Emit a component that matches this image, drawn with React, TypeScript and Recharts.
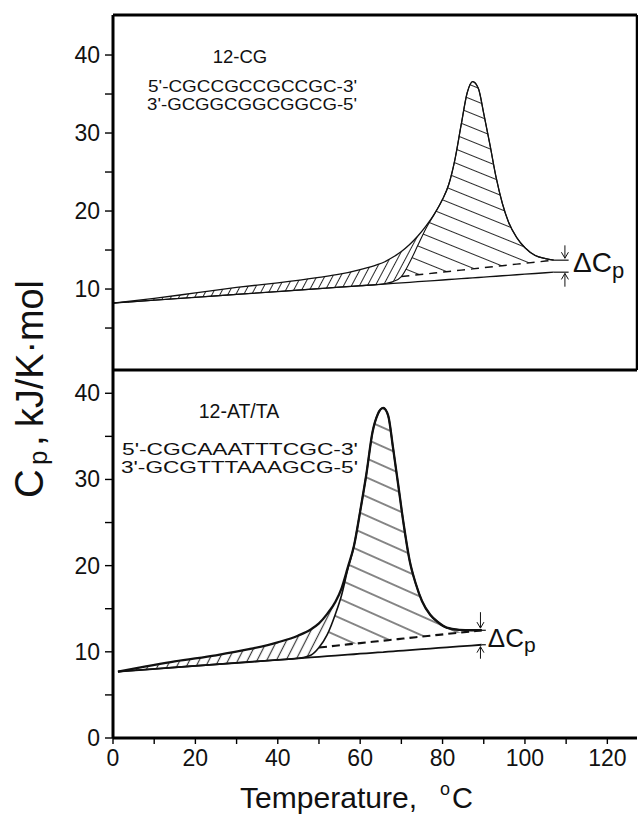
import React from 'react';
import {
  ComposedChart,
  Line,
  Area,
  XAxis,
  YAxis,
  ReferenceLine,
  ReferenceDot,
} from 'recharts';

const FONT = '"Liberation Sans", Arial, Helvetica, sans-serif';

// ---------- 12-CG duplex (upper panel) ----------
const cgTemps = [0, 10, 20, 30, 40, 50, 55, 60, 64, 66, 68, 70, 72, 74, 76, 78, 80, 81.5, 83, 84.5, 86, 87.3, 88.7, 90, 91.5, 93, 94.5, 96, 98, 100, 102.5, 105, 107];
// measured heat capacity curve
const cgCp = [8.2, 8.8, 9.5, 10.2, 10.8, 11.5, 11.9, 12.5, 13.1, 13.5, 14.1, 14.8, 15.7, 16.8, 18.1, 19.6, 21.5, 23.4, 26.6, 31.0, 35.2, 36.6, 35.7, 32.5, 28.5, 24.3, 21.0, 18.6, 16.6, 15.3, 14.3, 13.9, 13.7];
// cooperative melting component (leaves the baseline, joins the peak)
const cgInner = [8.2, 8.57, 8.94, 9.31, 9.68, 10.05, 10.24, 10.42, 10.57, 10.7, 10.95, 11.6, 13.4, 15.6, 17.8, 19.6, 21.5, 23.4, 26.6, 31.0, 35.2, 36.6, 35.7, 32.5, 28.5, 24.3, 21.0, 18.6, 16.6, 15.3, 14.3, 13.9, 13.7];
// initial-state baseline
const cgBase = [8.2, 8.57, 8.94, 9.31, 9.68, 10.05, 10.24, 10.42, 10.57, 10.64, 10.72, 10.79, 10.86, 10.94, 11.01, 11.09, 11.16, 11.22, 11.27, 11.33, 11.38, 11.43, 11.48, 11.53, 11.59, 11.64, 11.7, 11.75, 11.83, 11.9, 11.99, 12.09, 12.16];
// progress baseline under the transition
const cgDashed = [null, null, null, null, null, null, null, null, null, null, null, 11.6, 11.71, 11.83, 11.94, 12.05, 12.17, 12.25, 12.34, 12.42, 12.51, 12.58, 12.66, 12.74, 12.82, 12.91, 12.99, 13.08, 13.19, 13.3, 13.44, 13.59, 13.7];

// ---------- 12-AT/TA duplex (lower panel) ----------
const atTemps = [1.2, 8, 15, 25, 33, 40, 45, 48, 50, 52, 54, 55.5, 57, 58.5, 60, 61.5, 63, 64.3, 65.6, 66.8, 68, 69.2, 70.5, 72, 73.5, 75, 77, 79, 81, 84, 87, 89.5];
const atCp = [7.7, 8.3, 8.9, 9.6, 10.3, 11.1, 11.9, 12.6, 13.3, 14.4, 15.8, 17.4, 19.8, 22.3, 26.3, 30.6, 35.5, 37.6, 38.3, 37.4, 33.6, 29.5, 25.0, 20.6, 17.9, 15.9, 14.3, 13.4, 12.8, 12.55, 12.5, 12.5];
const atInner = [7.7, 7.94, 8.19, 8.54, 8.82, 9.07, 9.25, 9.6, 10.5, 12.0, 14.4, 16.6, 19.6, 22.3, 26.3, 30.6, 35.5, 37.6, 38.3, 37.4, 33.6, 29.5, 25.0, 20.6, 17.9, 15.9, 14.3, 13.4, 12.8, 12.55, 12.5, 12.5];
const atBase = [7.7, 7.94, 8.19, 8.54, 8.82, 9.07, 9.25, 9.35, 9.42, 9.49, 9.56, 9.62, 9.67, 9.72, 9.78, 9.83, 9.88, 9.93, 9.97, 10.02, 10.06, 10.1, 10.15, 10.2, 10.25, 10.31, 10.38, 10.45, 10.52, 10.62, 10.73, 10.82];
const atDashed = [null, null, null, null, null, null, null, null, 10.5, 10.6, 10.71, 10.78, 10.86, 10.93, 11.01, 11.08, 11.16, 11.22, 11.29, 11.35, 11.41, 11.47, 11.54, 11.62, 11.69, 11.77, 11.87, 11.97, 12.07, 12.22, 12.37, 12.5];

// axis ticks
const tempTicks = [0, 10, 20, 30, 40, 50, 60, 70, 80, 90, 100, 110, 120];
const cgCpTicks = [5, 10, 15, 20, 25, 30, 35, 40];
const atCpTicks = [0, 5, 10, 15, 20, 25, 30, 35, 40];

const TEMP_DOMAIN: [number, number] = [0, 127.2];
const CG_DOMAIN: [number, number] = [-0.38, 45.13];
const AT_DOMAIN: [number, number] = [0, 42.7];

type Row = {
  t: number;
  cp: number;
  inner: number;
  base: number;
  dashed: number | null;
  pre: [number, number];
  peak: [number, number] | null;
};

const buildRows = (
  temps: number[],
  cp: number[],
  inner: number[],
  base: number[],
  dashed: (number | null)[]
): Row[] =>
  temps.map((t, i) => ({
    t,
    cp: cp[i],
    inner: inner[i],
    base: base[i],
    dashed: dashed[i],
    pre: [inner[i], cp[i]],
    peak: dashed[i] == null ? null : [dashed[i] as number, inner[i]],
  }));

const cgRows = buildRows(cgTemps, cgCp, cgInner, cgBase, cgDashed);
const atRows = buildRows(atTemps, atCp, atInner, atBase, atDashed);

const YTick = (props: any) => {
  const { x, y, payload } = props;
  if (payload.value % 10 !== 0) return <g />;
  return (
    <text x={x} y={y} dy={8} textAnchor="end" fontSize={23} fontFamily={FONT} fill="#111">
      {payload.value}
    </text>
  );
};

const XTick = (props: any) => {
  const { x, y, payload } = props;
  if (payload.value % 20 !== 0) return <g />;
  return (
    <text x={x} y={y} dy={20} textAnchor="middle" fontSize={23} fontFamily={FONT} fill="#111">
      {payload.value}
    </text>
  );
};

const ArrowShape = (props: any) => {
  const { x1, y1, x2, y2 } = props;
  const dir = y2 > y1 ? 1 : -1;
  return (
    <g>
      <line x1={x1} y1={y1} x2={x2} y2={y2} stroke="#111" strokeWidth={1} />
      <path
        d={`M${x2 - 3.5},${y2 - 6 * dir} L${x2},${y2} L${x2 + 3.5},${y2 - 6 * dir}`}
        fill="none"
        stroke="#111"
        strokeWidth={1}
      />
    </g>
  );
};

const BarShape = (props: any) => {
  const { x1, y1, x2, y2 } = props;
  return <line x1={x1} y1={y1} x2={x2} y2={y2} stroke="#111" strokeWidth={1.2} />;
};

const makeDelta = (size: number, sub: number, shift: number) => (props: any) => (
  <text x={props.cx} y={props.cy} fontSize={size} fontFamily={FONT} fill="#111">
    ΔC
    <tspan fontSize={sub} dy={shift}>
      p
    </tspan>
  </text>
);

const makeLabelBlock = (
  title: string,
  line1: string,
  line2: string,
  size: number,
  titleSize: number,
  width: number,
  titleDx: number,
  titleDy: number,
  lineGap: number
) => (props: any) => {
  const { cx, cy } = props;
  return (
    <g fontFamily={FONT} fill="#111">
      <text x={cx + titleDx} y={cy + titleDy} fontSize={titleSize} textAnchor="middle">
        {title}
      </text>
      <text x={cx} y={cy} fontSize={size} textLength={width} lengthAdjust="spacingAndGlyphs">
        {line1}
      </text>
      <text x={cx - 1} y={cy + lineGap} fontSize={size} textLength={width + 1} lengthAdjust="spacingAndGlyphs">
        {line2}
      </text>
    </g>
  );
};

const CpAxisTitle = () => (
  <text transform="translate(43,498) rotate(-90)" fontFamily={FONT} fill="#111">
    <tspan x={0} y={0} fontSize={40}>
      C
    </tspan>
    <tspan x={33} dy={4} fontSize={26}>
      p
    </tspan>
    <tspan x={52} dy={-4} fontSize={39}>
      ,
    </tspan>
    <tspan x={71} fontSize={39} textLength={147} lengthAdjust="spacingAndGlyphs">
      kJ/K·mol
    </tspan>
  </text>
);

const TempAxisTitle = () => (
  <text y={808} fontFamily={FONT} fill="#111">
    <tspan x={240} fontSize={29} textLength={177} lengthAdjust="spacingAndGlyphs">
      Temperature,
    </tspan>
    <tspan x={440} dy={-13} fontSize={18}>
      o
    </tspan>
    <tspan x={452} dy={13} fontSize={29}>
      C
    </tspan>
  </text>
);

const axisLine = { stroke: '#000', strokeWidth: 3 };
const tickLine = { stroke: '#000', strokeWidth: 1.4 };

type PanelStyle = {
  prefix: string;
  peakGap: number;
  peakAngle: number;
  preGap: number;
  preAngle: number;
  hatch: string;
  hatchWidth: number;
  cpWidth: number;
  innerWidth: number;
  baseWidth: number;
  dashWidth: number;
  dash: string;
};

const HatchDefs = ({ s }: { s: PanelStyle }) => (
  <defs>
    <pattern
      id={`${s.prefix}-peak`}
      patternUnits="userSpaceOnUse"
      width={30}
      height={s.peakGap}
      patternTransform={`rotate(${s.peakAngle})`}
    >
      <line x1={0} y1={s.peakGap / 2} x2={30} y2={s.peakGap / 2} stroke={s.hatch} strokeWidth={s.hatchWidth} />
    </pattern>
    <pattern
      id={`${s.prefix}-pre`}
      patternUnits="userSpaceOnUse"
      width={30}
      height={s.preGap}
      patternTransform={`rotate(${s.preAngle})`}
    >
      <line x1={0} y1={s.preGap / 2} x2={30} y2={s.preGap / 2} stroke={s.hatch} strokeWidth={s.hatchWidth} />
    </pattern>
  </defs>
);

const cgStyle: PanelStyle = {
  prefix: 'cg',
  peakGap: 13,
  peakAngle: 22,
  preGap: 7,
  preAngle: -62,
  hatch: '#2a2a2a',
  hatchWidth: 1,
  cpWidth: 1.3,
  innerWidth: 1.1,
  baseWidth: 1.3,
  dashWidth: 1.4,
  dash: '8 6',
};

const atStyle: PanelStyle = {
  prefix: 'at',
  peakGap: 17.4,
  peakAngle: 24,
  preGap: 8.6,
  preAngle: -63,
  hatch: '#3a3a3a',
  hatchWidth: 1.2,
  cpWidth: 2.3,
  innerWidth: 1.6,
  baseWidth: 1.8,
  dashWidth: 2.1,
  dash: '8 5',
};

const seriesFor = (s: PanelStyle) => [
  <Area
    key="pre"
    type="monotone"
    dataKey={(d: Row) => d.pre}
    stroke="none"
    fill={`url(#${s.prefix}-pre)`}
    fillOpacity={1}
    isAnimationActive={false}
    connectNulls={false}
  />,
  <Area
    key="peak"
    type="monotone"
    dataKey={(d: Row) => d.peak}
    stroke="none"
    fill={`url(#${s.prefix}-peak)`}
    fillOpacity={1}
    isAnimationActive={false}
    connectNulls={false}
  />,
  <Line
    key="base"
    type="linear"
    dataKey="base"
    stroke="#111"
    strokeWidth={s.baseWidth}
    dot={false}
    isAnimationActive={false}
  />,
  <Line
    key="dashed"
    type="linear"
    dataKey="dashed"
    stroke="#111"
    strokeWidth={s.dashWidth}
    strokeDasharray={s.dash}
    dot={false}
    connectNulls={false}
    isAnimationActive={false}
  />,
  <Line
    key="inner"
    type="monotone"
    dataKey="inner"
    stroke="#111"
    strokeWidth={s.innerWidth}
    dot={false}
    isAnimationActive={false}
  />,
  <Line
    key="cp"
    type="monotone"
    dataKey="cp"
    stroke="#111"
    strokeWidth={s.cpWidth}
    dot={false}
    isAnimationActive={false}
  />,
];

const cgLabel = makeLabelBlock(
  '12-CG',
  "5'-CGCCGCCGCCGC-3'",
  "3'-GCGGCGGCGGCG-5'",
  16,
  18.5,
  209,
  92,
  -29,
  18.5
);

const atLabel = makeLabelBlock(
  '12-AT/TA',
  "5'-CGCAAATTTCGC-3'",
  "3'-GCGTTTAAAGCG-5'",
  16.5,
  19.5,
  236,
  117,
  -37,
  18
);

export default function App() {
  return (
    <div style={{ position: 'absolute', left: 0, top: 0, width: 638, height: 818, background: '#fff' }}>
      {/* upper panel: 12-CG */}
      <div style={{ position: 'absolute', left: 0, top: 0 }}>
        <ComposedChart width={638} height={818} data={cgRows} margin={{ top: 15, right: 1, bottom: 448, left: 53 }}>
          <HatchDefs s={cgStyle} />
          <XAxis dataKey="t" type="number" domain={TEMP_DOMAIN} allowDataOverflow hide height={0} />
          <YAxis
            type="number"
            domain={CG_DOMAIN}
            allowDataOverflow
            width={60}
            ticks={cgCpTicks}
            interval={0}
            tickSize={8}
            tickMargin={5}
            axisLine={axisLine}
            tickLine={tickLine}
            tick={<YTick />}
          />
          {seriesFor(cgStyle)}
          <ReferenceLine y={45.13} stroke="#000" strokeWidth={3} />
          <ReferenceLine x={127.2} stroke="#000" strokeWidth={2.5} />
          <ReferenceLine y={-0.38} stroke="#000" strokeWidth={3} />
          <ReferenceLine segment={[{ x: 109.7, y: 15.6 }, { x: 109.7, y: 13.95 }]} shape={ArrowShape} />
          <ReferenceLine segment={[{ x: 109.7, y: 10.3 }, { x: 109.7, y: 12.0 }]} shape={ArrowShape} />
          <ReferenceLine segment={[{ x: 107, y: 13.7 }, { x: 110.6, y: 13.7 }]} shape={BarShape} />
          <ReferenceLine segment={[{ x: 107, y: 12.16 }, { x: 110.6, y: 12.16 }]} shape={BarShape} />
          <ReferenceDot x={111.65} y={12.2} r={0} shape={makeDelta(28, 22, 6)} />
          <ReferenceDot x={8.5} y={35.26} r={0} shape={cgLabel} />
        </ComposedChart>
      </div>

      {/* lower panel: 12-AT/TA */}
      <div style={{ position: 'absolute', left: 0, top: 0 }}>
        <ComposedChart width={638} height={818} data={atRows} margin={{ top: 370, right: 1, bottom: 50, left: 53 }}>
          <HatchDefs s={atStyle} />
          <XAxis
            dataKey="t"
            type="number"
            domain={TEMP_DOMAIN}
            allowDataOverflow
            height={30}
            ticks={tempTicks}
            interval={0}
            tickSize={6}
            tickMargin={2}
            axisLine={axisLine}
            tickLine={tickLine}
            tick={<XTick />}
            label={<TempAxisTitle />}
          />
          <YAxis
            type="number"
            domain={AT_DOMAIN}
            allowDataOverflow
            width={60}
            ticks={atCpTicks}
            interval={0}
            tickSize={8}
            tickMargin={5}
            axisLine={axisLine}
            tickLine={tickLine}
            tick={<YTick />}
            label={<CpAxisTitle />}
          />
          {seriesFor(atStyle)}
          <ReferenceLine segment={[{ x: 89.2, y: 14.6 }, { x: 89.2, y: 12.75 }]} shape={ArrowShape} />
          <ReferenceLine segment={[{ x: 89.2, y: 9.2 }, { x: 89.2, y: 10.6 }]} shape={ArrowShape} />
          <ReferenceLine segment={[{ x: 89.5, y: 12.5 }, { x: 90.5, y: 12.5 }]} shape={BarShape} />
          <ReferenceLine segment={[{ x: 89.5, y: 10.82 }, { x: 90.5, y: 10.82 }]} shape={BarShape} />
          <ReferenceDot x={91.0} y={10.56} r={0} shape={makeDelta(26, 21, 5)} />
          <ReferenceDot x={2.18} y={32.83} r={0} shape={atLabel} />
        </ComposedChart>
      </div>
    </div>
  );
}
